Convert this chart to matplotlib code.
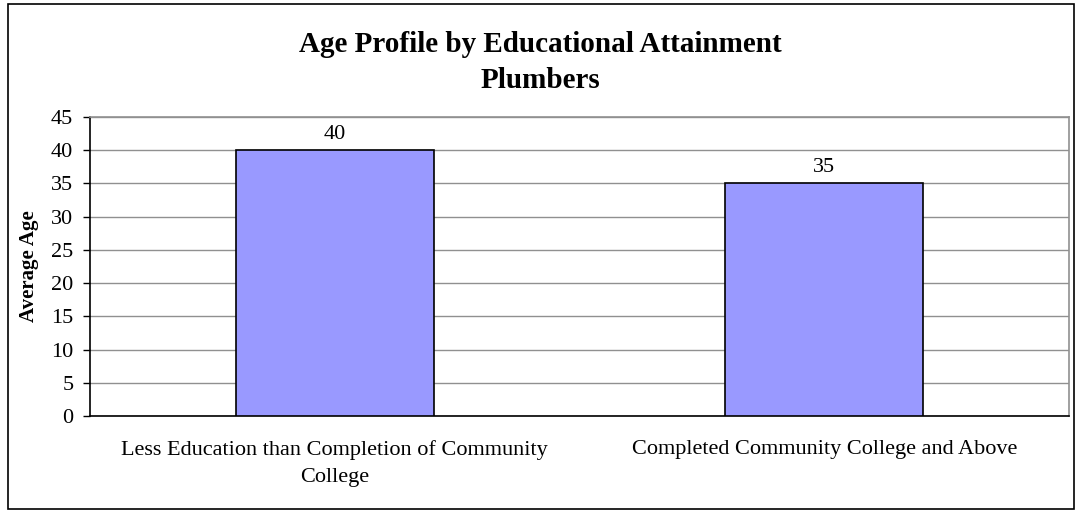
import matplotlib.pyplot as plt
from matplotlib.patches import Rectangle

categories = ["Less Education than Completion of Community\nCollege",
              "Completed Community College and Above"]
avg_age = [40, 35]
y_ticks = [0, 5, 10, 15, 20, 25, 30, 35, 40, 45]

plt.rcParams['font.family'] = ['Liberation Serif', 'DejaVu Serif']

fig = plt.figure(figsize=(10.8, 5.12), dpi=100)
W, H = 1080, 512

# outer chart border
fig.patches.append(Rectangle((8 / W, 3 / H), 1066 / W, 505 / H, transform=fig.transFigure,
                             fill=False, edgecolor='black', linewidth=1.2))

ax = fig.add_axes([90 / W, 1 - 416 / H, 979 / W, 299 / H])
x = range(len(categories))
bars = ax.bar(x, avg_age, width=0.405, color='#9999ff', edgecolor='black',
              linewidth=1.2, zorder=3)

for b, v in zip(bars, avg_age):
    ax.text(b.get_x() + b.get_width() / 2, v + 1.0, f"{v}", ha='center', va='bottom',
            fontsize=16)

ax.set_xlim(-0.5, 1.5)
ax.set_ylim(0, 45)
ax.set_yticks(y_ticks)
ax.tick_params(axis='y', labelsize=16, length=5, width=1, direction='out', pad=7)
ax.set_xticks(list(x))
ax.set_xticklabels(categories, fontsize=16, linespacing=1.6)
ax.tick_params(axis='x', length=0, pad=17)
ax.yaxis.grid(True, color='#909090', linewidth=1, zorder=0)
ax.set_axisbelow(True)

for s in ['top', 'right']:
    ax.spines[s].set_color('#909090')
    ax.spines[s].set_linewidth(1.2)
for s in ['left', 'bottom']:
    ax.spines[s].set_color('black')
    ax.spines[s].set_linewidth(1.2)

ax.set_ylabel("Average Age", fontsize=15, fontweight='bold', labelpad=9)

fig.text(0.5, 1 - 52 / H, "Age Profile by Educational Attainment", ha='center', va='baseline',
         fontsize=21, fontweight='bold')
fig.text(0.5, 1 - 88 / H, "Plumbers", ha='center', va='baseline',
         fontsize=21, fontweight='bold')

fig.savefig("out.png", dpi=100, facecolor='white')
